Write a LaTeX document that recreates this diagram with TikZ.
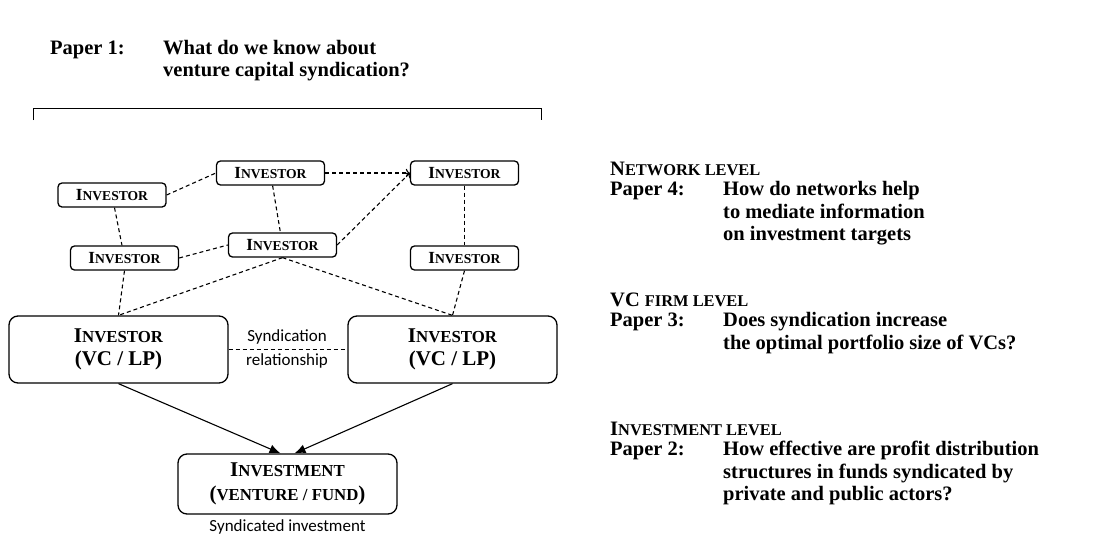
\documentclass[tikz,border=0pt]{standalone}
\usepackage{fontspec}
\setmainfont{Liberation Serif}
\newfontfamily\notefont{Carlito}
\usepackage{graphicx}
\usetikzlibrary{arrows.meta}
\newcommand{\smcap}[2]{#1\scalebox{0.8}{#2}}
\newcommand{\paperrow}[1]{\makebox[113pt][l]{#1}}

\begin{document}
\begin{tikzpicture}
[x=10pt,y=-10pt,
  smallbox/.style={shape=rectangle,rounded corners=4pt,draw,line width=1.3pt,%
    minimum width=108pt,minimum height=24pt,inner sep=0pt,%
    font=\fontsize{17}{20}\selectfont\bfseries},
  bigbox/.style={shape=rectangle,rounded corners=9pt,draw,line width=1.3pt,%
    minimum width=219pt,minimum height=67pt,inner sep=0pt,align=center,%
    font=\fontsize{21}{23}\selectfont\bfseries},
  netline/.style={line width=1.1pt,dash pattern=on 4pt off 3pt},
  fundarrow/.style={-{Latex[length=11pt,width=9pt]},line width=1.1pt},
  notetext/.style={font=\notefont\fontsize{17}{24}\selectfont,align=center},
  papertext/.style={anchor=base west,inner sep=0pt,%
    font=\fontsize{20.5}{22.5}\selectfont\bfseries}]
\useasboundingbox (0,0) rectangle (109.7,53.6);
%%% research questions
\node (paper1) at (5.0,5.4) [papertext] {\begin{tabular}[t]{@{}l@{}}
  \paperrow{Paper 1:}What do we know about\\
  \paperrow{}venture capital syndication?\end{tabular}};
\draw[line width=1pt] (3.3,12.0) -- (3.3,10.8) -- (54.1,10.8) -- (54.1,12.0);
%
\node (paper4) at (61.0,17.5) [papertext] {\begin{tabular}[t]{@{}l@{}}
  \smcap{N}{ETWORK LEVEL}\\[-2pt]
  \paperrow{Paper 4:}How do networks help\\
  \paperrow{}to mediate information\\
  \paperrow{}on investment targets\end{tabular}};
\node (paper3) at (61.0,30.6) [papertext] {\begin{tabular}[t]{@{}l@{}}
  VC \scalebox{0.8}{FIRM LEVEL}\\[-2pt]
  \paperrow{Paper 3:}Does syndication increase\\
  \paperrow{}the optimal portfolio size of VCs?\end{tabular}};
\node (paper2) at (61.0,43.5) [papertext] {\begin{tabular}[t]{@{}l@{}}
  \smcap{I}{NVESTMENT LEVEL}\\[-2pt]
  \paperrow{Paper 2:}How effective are profit distribution\\
  \paperrow{}structures in funds syndicated by\\
  \paperrow{}private and public actors?\end{tabular}};
%
%%% network of investors
% nodes
\node (invA) at (11.2,19.5) [smallbox] {\smcap{I}{NVESTOR}};
\node (invB) at (27.05,17.3) [smallbox] {\smcap{I}{NVESTOR}};
\node (invC) at (46.45,17.3) [smallbox] {\smcap{I}{NVESTOR}};
\node (invD) at (12.45,25.8) [smallbox] {\smcap{I}{NVESTOR}};
\node (invE) at (28.25,24.5) [smallbox] {\smcap{I}{NVESTOR}};
\node (invF) at (46.45,25.8) [smallbox] {\smcap{I}{NVESTOR}};
\node (vcleft) at (11.85,34.95) [bigbox] {\smcap{I}{NVESTOR}\\(VC / LP)};
\node (vcright) at (45.25,34.95) [bigbox,minimum width=209pt] {\smcap{I}{NVESTOR}\\(VC / LP)};
\node (deal) at (28.75,48.4) [bigbox,minimum height=60pt,%
  font=\fontsize{21}{24}\selectfont\bfseries] {\smcap{I}{NVESTMENT}\\(\scalebox{0.8}{VENTURE / FUND})};
\node (dealnote) at (28.75,52.7) [notetext] {Syndicated investment};
\node (synnote) at (28.7,34.85) [notetext] {Syndication\\relationship};
% edges
\path
(invA.east) edge[netline] (invB.west)
(invB) edge[netline,->] (invC)
(invE.east) edge[netline,->] (invC.west)
(invB) edge[netline] (invE)
(invA) edge[netline] (invD)
(invD.east) edge[netline] (invE.west)
(invC) edge[netline] (invF)
(invD.south) edge[netline] (vcleft.north)
(invE.south) edge[netline] (vcleft.north)
(invE.south) edge[netline] (vcright.north)
(invF.south) edge[netline] (vcright.north)
(vcleft) edge[netline] (vcright)
(vcleft.south) edge[fundarrow] ([xshift=-7pt]deal.north)
(vcright.south) edge[fundarrow] ([xshift=7pt]deal.north);
\end{tikzpicture}
\end{document}
